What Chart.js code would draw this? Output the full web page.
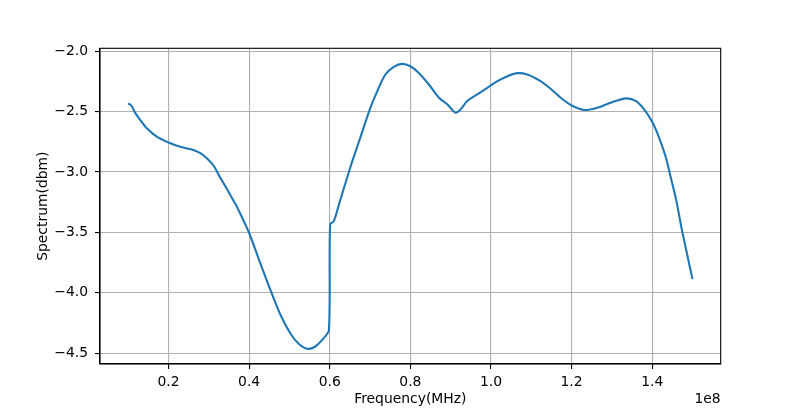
<!DOCTYPE html>
<html>
<head>
<meta charset="utf-8">
<script src="https://cdn.jsdelivr.net/npm/chart.js@4"></script>
<style>
  html, body { margin: 0; padding: 0; background: #fff; }
  #wrap { width: 800px; height: 409px; position: relative; }
</style>
</head>
<body>
<div id="wrap"><canvas id="c" width="800" height="409"></canvas></div>
<script>
// Frequency values in Hz
const freqHz = [
  0.100e8, 0.109e8, 0.117e8, 0.130e8, 0.146e8, 0.171e8, 0.200e8, 0.229e8, 0.254e8, 0.279e8,
  0.295e8, 0.312e8, 0.328e8, 0.345e8, 0.360e8, 0.370e8, 0.400e8, 0.428e8, 0.453e8, 0.478e8,
  0.502e8, 0.523e8, 0.544e8, 0.564e8, 0.585e8, 0.598e8, 0.601e8, 0.610e8, 0.622e8, 0.651e8,
  0.676e8, 0.701e8, 0.718e8, 0.738e8, 0.759e8, 0.780e8, 0.800e8, 0.821e8, 0.846e8, 0.871e8,
  0.892e8, 0.912e8, 0.925e8, 0.941e8, 0.966e8, 0.991e8, 1.016e8, 1.041e8, 1.066e8, 1.090e8,
  1.123e8, 1.148e8, 1.173e8, 1.198e8, 1.231e8, 1.264e8, 1.297e8, 1.335e8, 1.360e8, 1.380e8,
  1.401e8, 1.417e8, 1.434e8, 1.446e8, 1.459e8, 1.474e8, 1.500e8
];
// Spectrum values in dBm
const spectrum = [
  -2.431, -2.455, -2.508, -2.569, -2.637, -2.706, -2.755, -2.791, -2.810, -2.843,
  -2.885, -2.948, -3.044, -3.140, -3.230, -3.290, -3.505, -3.758, -3.978, -4.184,
  -4.335, -4.423, -4.464, -4.445, -4.376, -4.308, -3.434, -3.407, -3.278, -2.962,
  -2.714, -2.467, -2.330, -2.192, -2.129, -2.104, -2.124, -2.179, -2.275, -2.385,
  -2.440, -2.508, -2.480, -2.412, -2.357, -2.302, -2.247, -2.206, -2.181, -2.192,
  -2.247, -2.310, -2.385, -2.445, -2.486, -2.467, -2.426, -2.390, -2.412, -2.480,
  -2.590, -2.714, -2.879, -3.044, -3.222, -3.483, -3.887
];
const xTicks = [0.2e8, 0.4e8, 0.6e8, 0.8e8, 1.0e8, 1.2e8, 1.4e8];
const yTicks = [-4.5, -4.0, -3.5, -3.0, -2.5, -2.0];
const xOffsetLabel = '1e8';

const FONT = 'DejaVu Sans';
const FS = 13.9;

const points = freqHz.map((f, i) => ({ x: f, y: spectrum[i] }));

const framePlugin = {
  id: 'frame',
  afterDraw(chart) {
    const { ctx, chartArea: a } = chart;
    ctx.save();
    ctx.strokeStyle = '#000';
    ctx.lineWidth = 1.1;
    ctx.strokeRect(a.left, a.top, a.right - a.left, a.bottom - a.top);
    ctx.fillStyle = '#000';
    ctx.font = FS + 'px "' + FONT + '"';
    ctx.textAlign = 'right';
    ctx.textBaseline = 'middle';
    ctx.fillText(xOffsetLabel, a.right, 399);
    ctx.restore();
  }
};

new Chart(document.getElementById('c'), {
  type: 'line',
  data: {
    datasets: [{
      data: points,
      borderColor: '#1f77b4',
      borderWidth: 2.1,
      pointRadius: 0,
      fill: false,
      tension: 0.3,
      borderJoinStyle: 'round',
      borderCapStyle: 'butt'
    }]
  },
  options: {
    responsive: false,
    animation: false,
    events: [],
    layout: { padding: { left: 0, right: 79.3, top: 48.3, bottom: 0 } },
    plugins: { legend: { display: false }, tooltip: { enabled: false } },
    scales: {
      x: {
        type: 'linear',
        min: 0.03e8,
        max: 1.57e8,
        afterFit(s) { s.height = 45; },
        afterBuildTicks(s) { s.ticks = xTicks.map(v => ({ value: v })); },
        grid: { color: '#b0b0b0', lineWidth: 1.1, tickColor: '#000', tickLength: 5 },
        border: { display: true, color: '#000', width: 1.1 },
        ticks: {
          color: '#000', padding: 5, maxRotation: 0,
          font: { family: FONT, size: FS },
          callback: v => (v / 1e8).toFixed(1)
        },
        title: {
          display: true, text: 'Frequency(MHz)', color: '#000',
          font: { family: FONT, size: FS },
          padding: { top: 0, bottom: 1 }
        }
      },
      y: {
        type: 'linear',
        min: -4.59,
        max: -1.975,
        afterFit(s) { s.width = 100; },
        afterBuildTicks(s) { s.ticks = yTicks.map(v => ({ value: v })); },
        grid: { color: '#b0b0b0', lineWidth: 1.1, tickColor: '#000', tickLength: 5 },
        border: { display: true, color: '#000', width: 1.1 },
        ticks: {
          color: '#000', padding: 7,
          font: { family: FONT, size: FS },
          callback: v => (v < 0 ? '\u2212' : '') + Math.abs(v).toFixed(1)
        },
        title: {
          display: true, text: 'Spectrum(dbm)', color: '#000',
          font: { family: FONT, size: FS },
          padding: { top: 35, bottom: 0 }
        }
      }
    }
  },
  plugins: [framePlugin]
});
</script>
</body>
</html>
